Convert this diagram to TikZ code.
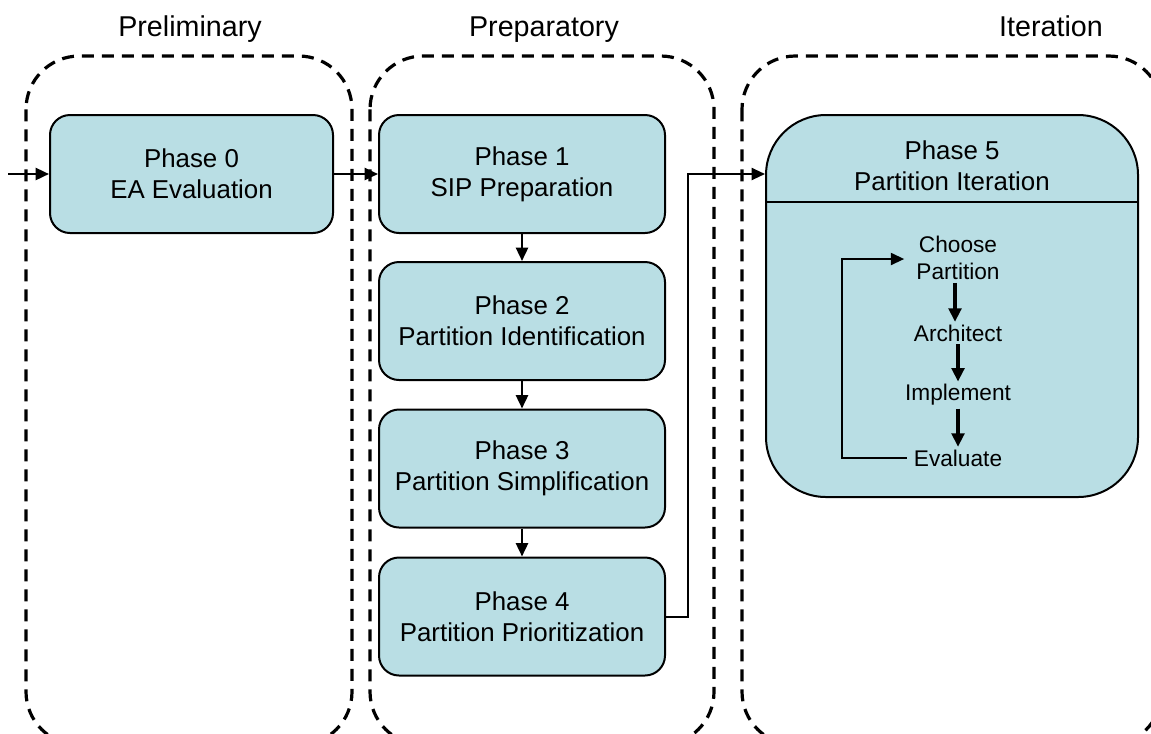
\documentclass[tikz,border=0pt]{standalone}
\usepackage{fontspec}
\setmainfont{Liberation Sans}
\usetikzlibrary{arrows.meta,calc}
\definecolor{boxfill}{RGB}{185,222,228}
\begin{document}
\begin{tikzpicture}[x=0.75pt,y=-0.75pt,
 phase/.style={draw=black, line width=1.5pt, fill=boxfill, rounded corners=15pt,
   minimum width=214.5pt, minimum height=88.5pt, align=center,
   font=\fontsize{19.4}{23.3}\selectfont, inner sep=0pt},
 container/.style={draw=black, line width=2.4pt, dash pattern=on 9pt off 6pt, rounded corners=40pt},
 title/.style={font=\fontsize{21.5}{25}\selectfont, inner sep=0pt, anchor=base},
 conn/.style={line width=1.8pt, -{Triangle[length=10pt,width=9pt]}},
 innertxt/.style={font=\fontsize{17}{20.5}\selectfont, align=center, inner sep=2pt},
 iconn/.style={line width=2.3pt, -{Triangle[length=10pt,width=9.5pt]}},
 loopline/.style={line width=1.6pt, -{Triangle[length=10pt,width=9pt]}}
]
\useasboundingbox (0,0) rectangle (1151,733);
% containers
\draw[container] (26,56) rectangle (352,745);
\draw[container] (370,56) rectangle (714,745);
\draw[container] (742,56) rectangle (1162,745);
% titles
\node[title] (tprel) at (190,36) {Preliminary};
\node[title] (tprep) at (544,36) {Preparatory};
\node[title] (titer) at (1051,36) {Iteration};
% phase boxes
\node[phase, minimum width=212.25pt] (p0) at (191.5,174) {Phase 0\\EA Evaluation};
\node[phase] (p1) at (522,174) {Phase 1\\SIP Preparation};
\node[phase] (p2) at (522,321) {Phase 2\\Partition Identification};
\node[phase] (p3) at (522,468.5) {Phase 3\\Partition Simplification};
\node[phase] (p4) at (522,616.5) {Phase 4\\Partition Prioritization};
\node[draw=black, line width=1.5pt, fill=boxfill, rounded corners=45pt,
   minimum width=279pt, minimum height=286.5pt, inner sep=0pt] (p5) at (952,306) {};
\draw[line width=1.5pt] (p5.west |- 0,202) -- (p5.east |- 0,202);
\node[align=center, font=\fontsize{19.4}{23.3}\selectfont, inner sep=0pt] (p5t) at (952,166) {Phase 5\\Partition Iteration};
% connectors
\coordinate (start) at (8,174);
\draw[conn] (start) -- (p0.west);
\draw[conn] (p0.east) -- (p1.west);
\draw[conn] (p1) -- (p2);
\draw[conn] (p2) -- (p3);
\draw[conn] (p3) -- (p4);
\draw[conn, line width=1.5pt] (p4.east) -- ++(22,0) |- (p0.east -| p5.west);
% inner loop
\node[innertxt] (choose) at (958,258) {Choose\\Partition};
\node[innertxt] (arch) at (958,333) {Architect};
\node[innertxt] (impl) at (958,395) {Implement};
\node[innertxt] (eval) at (958,458) {Evaluate};
\draw[iconn] (choose.south -| 955,0) -- (arch.north -| 955,0);
\draw[iconn] (arch.south -| 958,0) -- (impl.north -| 958,0);
\draw[iconn] (impl.south -| 958,0) -- (eval.north -| 958,0);
\draw[loopline, shorten >=7pt] ($(eval.west)+(-4,0)$) -- (842,458) -- (842,259) -- (choose.west |- 0,259);
\end{tikzpicture}
\end{document}
